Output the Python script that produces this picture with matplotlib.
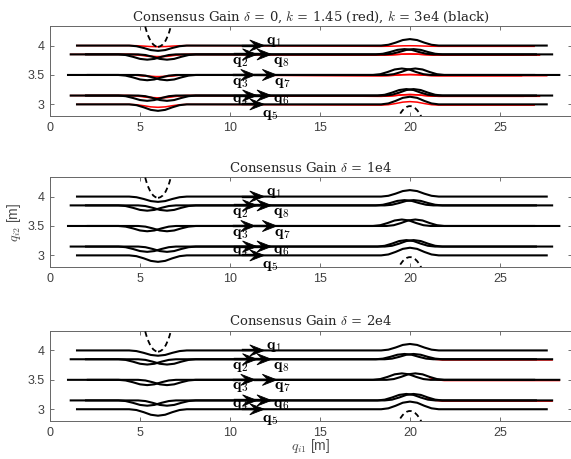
import numpy as np
import matplotlib
matplotlib.use("Agg")
import matplotlib.pyplot as plt
from matplotlib.patches import Circle, Polygon

plt.rcParams['mathtext.fontset'] = 'cm'
plt.rcParams['font.family'] = ['Liberation Sans', 'DejaVu Sans']

# agents q1..q8: lane, start/end of the path, dip at the first obstacle, hump at the second
agent_ids = [1, 2, 3, 4, 5, 6, 7, 8]
lane_y = [4.0, 3.85, 3.5, 3.15, 3.0, 3.15, 3.5, 3.85]
path_start = [1.5, 1.15, 1.0, 1.15, 1.5, 2.0, 2.1, 2.0]
path_end = [27.6, 27.0, 26.9, 27.0, 27.6, 27.9, 28.3, 27.9]
dip_x = [6.0, 5.4, 5.4, 5.4, 6.0, 6.5, 6.5, 6.5]
dip_depth = [-0.09, -0.09, -0.09, -0.09, -0.11, -0.09, -0.09, -0.09]
hump_x = [20.0, 19.7, 19.55, 19.8, 20.0, 20.2, 20.3, 20.2]
hump_height = [0.11, 0.09, 0.11, 0.11, 0.13, 0.11, 0.11, 0.09]

# low gain run (k = 1.45), drawn in red on the first panel
red_dip_x = [6.0, 5.9, 5.9, 5.9, 6.0, 6.1, 6.1, 6.1]
red_dip_depth = [-0.02, -0.04, -0.03, -0.04, -0.05, -0.04, -0.03, -0.04]
red_hump_x = [20.0, 20.0, 20.0, 20.0, 20.0, 20.0, 20.0, 20.0]
red_hump_height = [0.01, 0.02, 0.02, 0.03, 0.06, 0.03, 0.02, 0.02]

# shape of one avoidance manoeuvre (offset from its centre, fraction of its size)
profile_dx = [-1.6, -1.2, -0.8, -0.4, 0.0, 0.4, 0.8, 1.2, 1.6]
profile_shape = [0.0, 0.12, 0.45, 0.85, 1.0, 0.85, 0.45, 0.12, 0.0]

# heading arrows and labels
arrow_tip_x = [11.9, 11.5, 11.4, 11.5, 11.9, 12.3, 12.6, 12.3]
label_x = [12.0, 10.1, 10.1, 10.1, 11.8, 12.4, 12.45, 12.4]
label_y = [4.07, 3.73, 3.38, 3.08, 2.83, 3.08, 3.38, 3.73]

# obstacles
obstacle_x = [6.0, 20.0]
obstacle_y = [4.88, 1.77]
obstacle_r = [0.9, 1.2]

titles = [r'Consensus Gain $\delta$ = 0, $k$ = 1.45 (red), $k$ = 3e4 (black)',
          r'Consensus Gain $\delta$ = 1e4',
          r'Consensus Gain $\delta$ = 2e4']
# red run: drift below the black one past the second obstacle, visible part, shorter ends
red_shift = [-0.013, 0.0, -0.012]
red_from_x = [0.0, 30.0, 21.0]
red_end_trim = [0.7, 0.0, 0.0]
red_agents = [[1, 2, 3, 4, 5, 6, 7, 8], [], [6, 7, 8]]


def build_path(i, dx, dd, hx, hh, trim=0.0):
    dxs = np.array(profile_dx)
    shp = np.array(profile_shape)
    xs = np.concatenate([[path_start[i]], dx[i] + dxs, hx[i] + dxs, [path_end[i] - trim]])
    ys = np.concatenate([[0.0], dd[i] * shp, hh[i] * shp, [0.0]]) + lane_y[i]
    return xs, ys


def draw_arrow(ax, tip, y):
    # notched arrow head, sized in data units
    L, h = 0.8, 0.095
    ax.plot([tip - 1.2, tip - 0.5], [y, y], color='black', lw=1.7, zorder=5)
    head = Polygon([(tip, y), (tip - L, y + h), (tip - 0.6 * L, y), (tip - L, y - h)],
                   closed=True, fc='black', ec='black', lw=0.6, zorder=5)
    ax.add_patch(head)


def draw_panel(ax, p):
    for a in red_agents[p]:
        i = a - 1
        if p == 0:
            xs, ys = build_path(i, red_dip_x, red_dip_depth, red_hump_x, red_hump_height,
                                red_end_trim[p])
        else:
            xs, ys = build_path(i, dip_x, dip_depth, hump_x, hump_height, red_end_trim[p])
        ys = ys + np.where(xs >= 18.0, red_shift[p], 0.0)
        keep = xs >= red_from_x[p]
        ax.plot(xs[keep], ys[keep], color='red', lw=1.1, zorder=2)
    for i in range(len(agent_ids)):
        xs, ys = build_path(i, dip_x, dip_depth, hump_x, hump_height)
        ax.plot(xs, ys, color='black', lw=1.5, zorder=3)

    for cx, cy, r in zip(obstacle_x, obstacle_y, obstacle_r):
        ax.add_patch(Circle((cx, cy), r, fill=False, ls=(0, (3, 2)), lw=1.3,
                            ec='black', zorder=4))

    for i, a in enumerate(agent_ids):
        draw_arrow(ax, arrow_tip_x[i], lane_y[i])
        ax.text(label_x[i], label_y[i], r'$\mathbf{q}_{%d}$' % a, fontsize=11.5,
                ha='left', va='center', zorder=6)

    ax.set_xlim(0, 29)
    ax.set_ylim(2.8, 4.33)
    ax.set_xticks([0, 5, 10, 15, 20, 25])
    ax.set_yticks([3, 3.5, 4])
    ax.set_yticklabels(['3', '3.5', '4'])
    ax.tick_params(direction='in', top=True, right=True, length=3, width=0.6,
                   colors='0.35', labelsize=9, labelcolor='0.25', pad=4)
    for s in ax.spines.values():
        s.set_color('0.4')
        s.set_linewidth(0.7)
    ax.set_title(titles[p], fontsize=9.5, family='serif', color='0.15', pad=4)


fig = plt.figure(figsize=(5.71, 4.59), dpi=100)
bottoms = [0.747, 0.418, 0.0828]
axes = []
for p in range(3):
    ax = fig.add_axes([0.0876, bottoms[p], 0.914, 0.196])
    draw_panel(ax, p)
    axes.append(ax)

axes[1].set_ylabel(r'$q_{i2}$ [m]', fontsize=10, color='0.3', labelpad=3)
axes[2].set_xlabel(r'$q_{i1}$ [m]', fontsize=10, color='0.3', labelpad=-1)

fig.savefig('out.png', dpi=100)
